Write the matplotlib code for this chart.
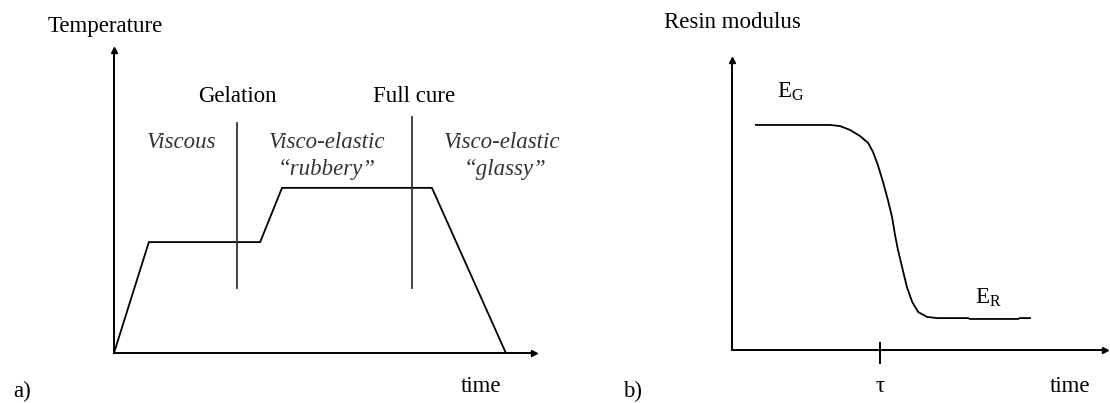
import matplotlib
matplotlib.use("Agg")
import matplotlib.pyplot as plt

plt.rcParams['font.family'] = ['Liberation Serif', 'DejaVu Serif']
plt.rcParams['mathtext.fontset'] = 'custom'
plt.rcParams['mathtext.rm'] = 'Liberation Serif'
plt.rcParams['mathtext.it'] = 'Liberation Serif:italic'

# a) cure cycle: temperature vs time (arbitrary units)
cure_time = [0.0, 0.83, 3.48, 4.00, 7.57, 9.33]
cure_temp = [0.0, 3.66, 3.66, 5.45, 5.45, 0.0]
gelation_t = 2.93
full_cure_t = 7.10

# b) resin modulus vs time (arbitrary units)
mod_time = [0.64, 2.63, 2.90, 3.16, 3.43, 3.65, 3.78, 3.91, 4.05, 4.18, 4.29,
            4.37, 4.45, 4.56, 4.69, 4.83, 4.99, 5.23, 5.50,
            6.33, 6.38, 7.67, 7.72, 7.99]
mod_val = [7.76, 7.76, 7.72, 7.59, 7.38, 7.14, 6.83, 6.38, 5.79, 5.17, 4.59,
           3.97, 3.45, 2.86, 2.17, 1.66, 1.31, 1.14, 1.10,
           1.10, 1.07, 1.07, 1.10, 1.10]
tau = 3.97

FS = 16.5
W, H = 1110, 403
fig = plt.figure(figsize=(W / 100, H / 100), dpi=100, facecolor='w')


def axes_px(x0, y0, x1, y1):
    # axes box from pixel corners (origin bottom-left, arrow tips top-right)
    return fig.add_axes([x0 / W, (H - y0) / H, (x1 - x0) / W, (y0 - y1) / H])


def arrow_axes(ax):
    for s in ['top', 'right']:
        ax.spines[s].set_visible(False)
    for s in ['left', 'bottom']:
        ax.spines[s].set_linewidth(1.4)
        ax.spines[s].set_color('k')
    ax.set_xticks([])
    ax.set_yticks([])
    ax.set_xlim(0, 10)
    ax.set_ylim(0, 10)
    ax.patch.set_alpha(0)
    ax.plot(1, 0, '>k', ms=5, transform=ax.transAxes, clip_on=False)
    ax.plot(0, 1, '^k', ms=5, transform=ax.transAxes, clip_on=False)


def label(ax, x, y, s, ha='center', **kw):
    ax.text(x, y, s, fontsize=FS, ha=ha, va='baseline', clip_on=False, **kw)


# left panel
ax1 = axes_px(114, 353, 534, 50)
arrow_axes(ax1)
ax1.plot(cure_time, cure_temp, '-', color='k', lw=1.3, clip_on=False)
ax1.plot([gelation_t, gelation_t], [2.15, 7.59], '-', color='#333333', lw=1.3)
ax1.plot([full_cure_t, full_cure_t], [2.15, 7.79], '-', color='#333333', lw=1.3)

ital = dict(style='italic', color='#333333')
label(ax1, -0.21, 10.59, 'Temperature')
label(ax1, gelation_t, 8.28, 'Gelation')
label(ax1, 7.14, 8.28, 'Full cure')
label(ax1, 1.60, 6.77, 'Viscous', **ital)
label(ax1, 5.07, 6.77, 'Visco-elastic', **ital)
label(ax1, 5.07, 5.87, '\u201crubbery\u201d', **ital)
label(ax1, 9.24, 6.77, 'Visco-elastic', **ital)
label(ax1, 9.31, 5.87, '\u201cglassy\u201d', **ital)
label(ax1, 8.74, -1.29, 'time')
label(ax1, -2.19, -1.45, 'a)')

# right panel
ax2 = axes_px(732, 350, 1105, 60)
arrow_axes(ax2)
ax2.plot(mod_time, mod_val, '-', color='k', lw=1.3)
ax2.plot([tau, tau], [-0.45, 0.24], '-', color='k', lw=1.4, clip_on=False)

label(ax2, 0.0, 11.10, 'Resin modulus')
label(ax2, 1.21, 8.69, r'E$_\mathrm{G}$', ha='left')
label(ax2, 6.51, 1.59, r'E$_\mathrm{R}$', ha='left')
label(ax2, tau, -1.45, '\u03c4')
label(ax2, 9.06, -1.45, 'time')
label(ax2, -2.68, -1.62, 'b)')

fig.savefig('out.png', dpi=100, facecolor='w')
